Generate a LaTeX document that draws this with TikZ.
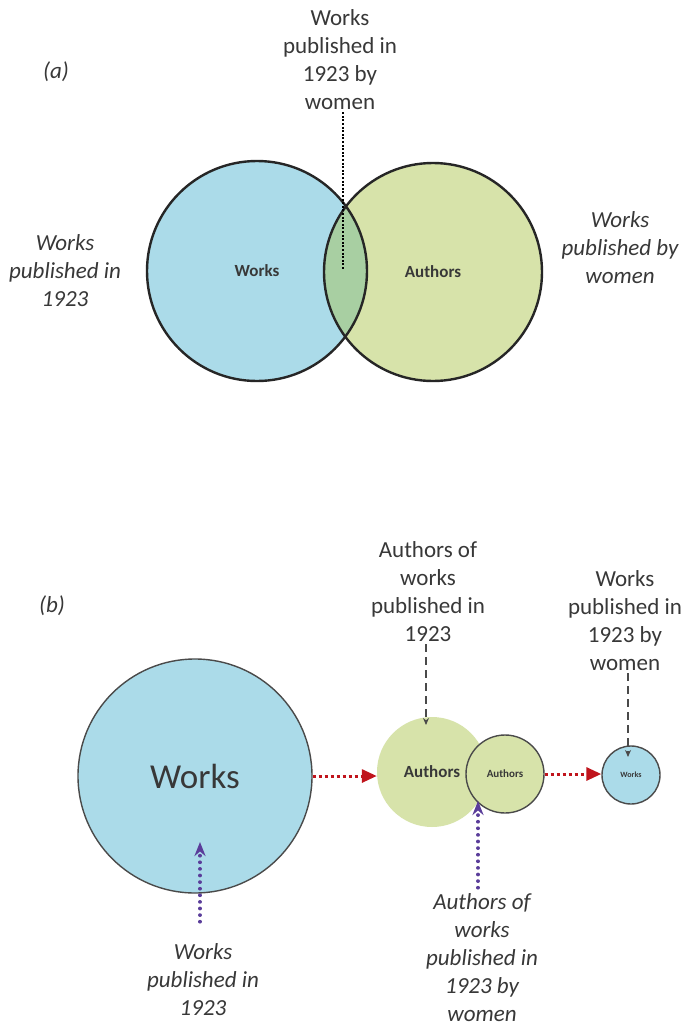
\documentclass[tikz,border=0pt]{standalone}
\usepackage{fontspec}
\setmainfont{Carlito}
\usetikzlibrary{arrows.meta}
\definecolor{bluefill}{HTML}{ABDBE9}
\definecolor{greenfill}{HTML}{D7E3AA}
\definecolor{overlapfill}{HTML}{A8CFA2}
\definecolor{txt}{HTML}{383838}
\definecolor{redarr}{HTML}{C0141C}
\definecolor{purparr}{HTML}{5A3D9A}
\definecolor{grayline}{HTML}{4A4A4A}
\tikzset{
  lbl/.style={align=center, text=txt, font=\fontsize{23}{28}\selectfont, inner sep=2pt},
  ilbl/.style={lbl, font=\fontsize{23}{28}\selectfont\itshape},
  venn/.style={circle, draw=black!85, line width=2.4pt, text=txt, inner sep=0pt},
  bcirc/.style={circle, draw=grayline, line width=1.4pt, text=txt, inner sep=0pt},
  redarrow/.style={redarr, line width=3pt, dash pattern=on 3.5pt off 2.5pt, -{Triangle[length=15pt,width=13pt]}},
  purparrow/.style={purparr, line width=3.6pt, line cap=round, dash pattern=on 0.1pt off 6.5pt, -{Stealth[length=14pt,width=11pt]}},
  grayarrow/.style={grayline, line width=1.4pt, dash pattern=on 8pt off 5pt, -{Stealth[length=7pt,width=6pt]}},
  blackdots/.style={black, line width=2pt, dash pattern=on 2pt off 1.6pt}
}
\begin{document}
\begin{tikzpicture}[x=1pt,y=-1pt]
\useasboundingbox[fill=white] (0,0) rectangle (684,1026);

% ---------- (a) ----------
\node[ilbl] (la) at (56,72) {(a)};
\node[lbl] (topa) at (340,60) {Works\\published in\\1923 by\\women};
\node[ilbl] (lefta) at (65,271) {Works\\published in\\1923};
\node[ilbl] (righta) at (620,248) {Works\\published by\\women};

\fill[bluefill] (257,271) circle (110pt);
\fill[greenfill] (433,272) circle (109pt);
\begin{scope}
  \clip (257,271) circle (110pt);
  \fill[overlapfill] (433,272) circle (109pt);
\end{scope}
\node[venn, minimum size=220pt, font=\fontsize{17}{20}\selectfont\bfseries] (works) at (257,271) {Works};
\node[venn, minimum size=218pt, font=\fontsize{17}{20}\selectfont\bfseries] (authors) at (433,272) {Authors};
\coordinate (ta) at (343,270);
\draw[blackdots] (topa.south -| ta) -- (ta);

% ---------- (b) ----------
\node[ilbl] (lb) at (52,606) {(b)};
\node[lbl] (labAuth) at (428,592) {Authors of\\works\\published in\\1923};
\node[lbl] (labWW) at (625,621) {Works\\published in\\1923 by\\women};
\node[ilbl] (labBL) at (203,980) {Works\\published in\\1923};
\node[ilbl] (labBM) at (482,958) {Authors of\\works\\published in\\1923 by\\women};

\node[bcirc, fill=bluefill, minimum size=234pt, font=\fontsize{35}{40}\selectfont] (bworks) at (195,776) {Works};
\node[circle, fill=greenfill, minimum size=110pt, inner sep=0pt, text=txt, font=\fontsize{17}{20}\selectfont\bfseries] (bauth) at (432,772) {Authors};
\node[bcirc, fill=greenfill, minimum size=78pt, font=\fontsize{11}{13}\selectfont\bfseries] (sauth) at (505,774) {Authors};
\node[bcirc, fill=bluefill, minimum size=58pt, font=\fontsize{8}{10}\selectfont\bfseries] (sworks) at (631,775) {Works};

\draw[redarrow] (bworks.east) -- (bworks.east -| bauth.west);
\draw[redarrow] (sauth.east) -- (sauth.east -| sworks.west);

\coordinate (tipA) at (426,725);
\coordinate (tipW) at (628,757);
\draw[grayarrow] (labAuth.south -| tipA) -- (tipA);
\draw[grayarrow] (labWW.south -| tipW) -- (tipW);

\coordinate (tipBL) at (200,842);
\coordinate (tipBM) at (478,801);
\draw[purparrow, shorten <=20pt] (labBL.north -| tipBL) -- (tipBL);
\draw[purparrow, shorten <=4pt] (labBM.north -| tipBM) -- (tipBM);
\end{tikzpicture}
\end{document}
